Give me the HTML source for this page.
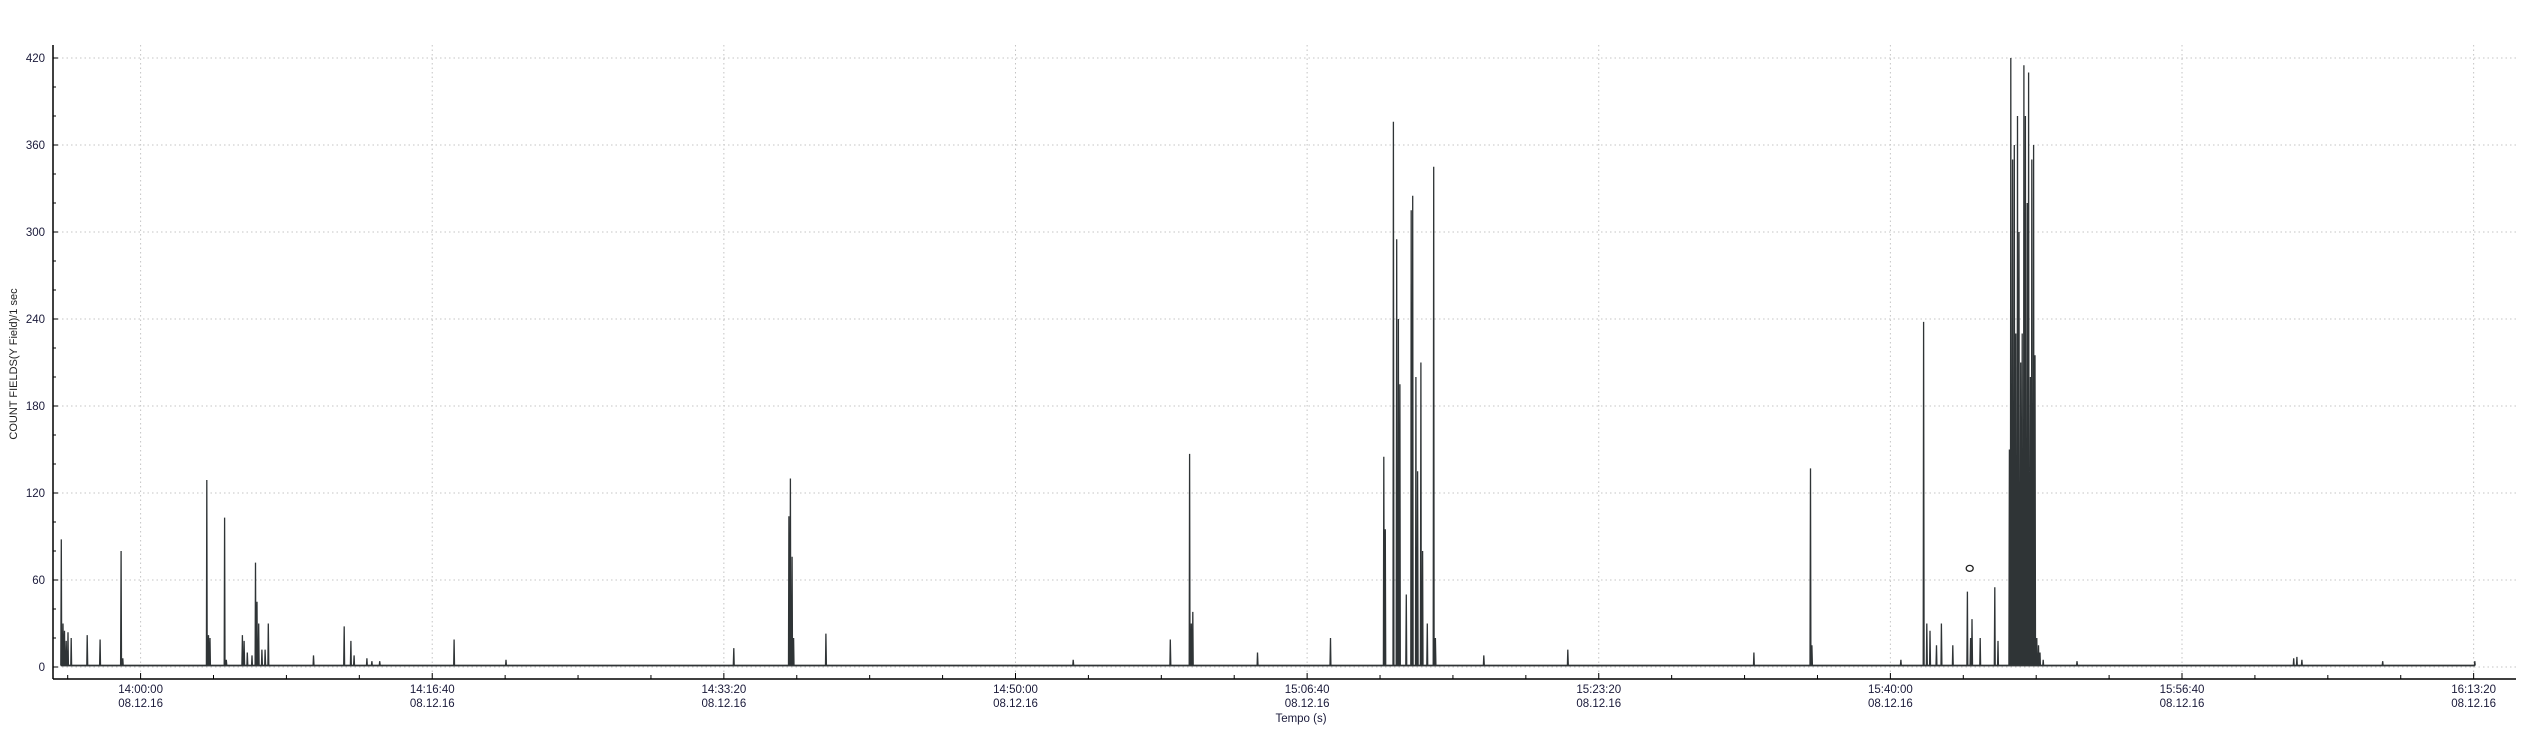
<!DOCTYPE html>
<html><head><meta charset="utf-8"><style>
html,body{margin:0;padding:0;background:#fff;}
svg{display:block;font-family:"Liberation Sans","DejaVu Sans",sans-serif;}
</style></head><body>
<svg id="chart" width="2534" height="731" xmlns="http://www.w3.org/2000/svg">
<g id="grid"></g>
<g id="series"></g>
<g id="axes"></g>
<text x="17" y="364" transform="rotate(-90 17 364)" text-anchor="middle" font-size="11" fill="#222">COUNT FIELDS(Y Field)/1 sec</text>
<text x="1301" y="722" text-anchor="middle" font-size="11.5" fill="#1a1a3a">Tempo (s)</text>
</svg>
<script>
// time in seconds relative to 14:00:00 on 08.12.16
const spikeTimes = [-272,-266,-261,-255,-249,-238,-183,-139,-67,-61,227,233,238,288,294,349,355,366,382,394,399,405,416,427,438,593,698,721,732,776,793,820,1075,1253,2034,2223,2228,2234,2239,2350,3198,3531,3597,3603,3608,3830,4080,4263,4268,4296,4307,4313,4318,4340,4357,4362,4373,4379,4390,4396,4412,4434,4440,4606,4894,5532,5726,5731,6036,6114,6125,6136,6158,6175,6214,6264,6275,6280,6308,6358,6369,6408,6413,6419,6425,6430,6436,6441,6447,6452,6458,6463,6469,6474,6480,6485,6491,6496,6502,6508,6513,6524,6640,7383,7394,7411,7688,8004];
const spikeValues = [88,30,25,18,24,20,22,19,80,6,129,22,20,103,5,22,18,10,8,72,45,30,12,12,30,8,28,18,8,6,4,4,19,5,13,104,130,76,20,23,5,19,147,30,38,10,20,145,95,376,295,240,195,50,315,325,200,135,210,80,30,345,20,8,12,10,137,15,5,238,30,25,15,30,15,52,20,33,20,55,18,150,420,350,360,230,380,300,210,230,415,380,320,410,200,350,360,215,20,15,10,5,4,6,7,5,4,4];
const markerTime = [6272];
const markerValue = [68];
const yTicks = [0,60,120,180,240,300,360,420];
const xTickTimes = [0,1000,2000,3000,4000,5000,6000,7000,8000];
const xTickLabels = ["14:00:00","14:16:40","14:33:20","14:50:00","15:06:40","15:23:20","15:40:00","15:56:40","16:13:20"];
const dateLabel = "08.12.16";

const L=53, R=2516, T=45, AX=679;
const xs = t => 140.6 + t*0.29163;
const ys = v => 667 - v*1.45;
const NS="http://www.w3.org/2000/svg";
function mk(tag, attrs, parent){const e=document.createElementNS(NS,tag);for(const k in attrs)e.setAttribute(k,attrs[k]);parent.appendChild(e);return e;}
const grid=document.getElementById('grid'), axes=document.getElementById('axes'), series=document.getElementById('series');

yTicks.forEach(v=>{
  const g=mk('line',{x1:L,x2:R,y1:ys(v),y2:ys(v),stroke:'#c4c4c4','stroke-dasharray':'1.5 3','stroke-width':1},grid);
  
  
  const t=mk('text',{x:45,y:ys(v)+4,'text-anchor':'end','font-size':11.5,fill:'#1a1a3a'},axes);
  t.textContent=v;
  
  
  mk('line',{x1:L,x2:L+5,y1:ys(v),y2:ys(v),stroke:'#000'},axes);
});
for(let v=0; v<=420; v+=20){ if(v%60) mk('line',{x1:L,x2:L+3,y1:ys(v),y2:ys(v),stroke:'#000'},axes); }
xTickTimes.forEach((t,i)=>{
  const x=xs(t);
  const g=mk('line',{x1:x,x2:x,y1:T,y2:AX,stroke:'#c4c4c4','stroke-dasharray':'1.5 3','stroke-width':1},grid);
  
  
  mk('line',{x1:x,x2:x,y1:AX-6,y2:AX,stroke:'#000'},axes);
  const a=mk('text',{x:x,y:693,'text-anchor':'middle','font-size':11.5,fill:'#1a1a3a'},axes);
  a.textContent=xTickLabels[i];
  
  
  const b=mk('text',{x:x,y:707,'text-anchor':'middle','font-size':11.5,fill:'#1a1a3a'},axes);
  b.textContent=dateLabel;
  
  
});
for(let t=-250; t<=8250; t+=250){ if(t%1000){const x=xs(t); if(x>L&&x<R) mk('line',{x1:x,x2:x,y1:AX-4,y2:AX,stroke:'#000'},axes);} }
const ya=mk('line',{x1:L,x2:L,y1:T,y2:AX,stroke:'#000','stroke-width':1.5},axes);


const xa=mk('line',{x1:L,x2:R,y1:AX,y2:AX,stroke:'#000','stroke-width':1.5},axes);



const base=1;
let d='M'+xs(spikeTimes[0]-2)+','+ys(base);
for(let i=0;i<spikeTimes.length;i++){
  const t=spikeTimes[i];
  const prevGap = i>0 ? t-spikeTimes[i-1] : 99;
  const nextGap = i<spikeTimes.length-1 ? spikeTimes[i+1]-t : 99;
  if(prevGap>3) d+=' L'+xs(t-1.5).toFixed(1)+','+ys(base);
  d+=' L'+xs(t).toFixed(1)+','+ys(spikeValues[i]).toFixed(1);
  if(nextGap>3) d+=' L'+xs(t+1.5).toFixed(1)+','+ys(base);
}
const bl=mk('line',{x1:xs(spikeTimes[0]),x2:xs(spikeTimes[spikeTimes.length-1]),y1:ys(base),y2:ys(base),stroke:'#888','stroke-width':2},series);


const p=mk('path',{d:d,fill:'none',stroke:'#2f3436','stroke-width':1.3,'stroke-linejoin':'miter'},series);


markerTime.forEach((t,i)=>{
  const c=mk('ellipse',{cx:xs(t),cy:ys(markerValue[i]),rx:3.5,ry:3,fill:'none',stroke:'#222','stroke-width':1.3},series);
  
  
});
</script>
</body></html>
